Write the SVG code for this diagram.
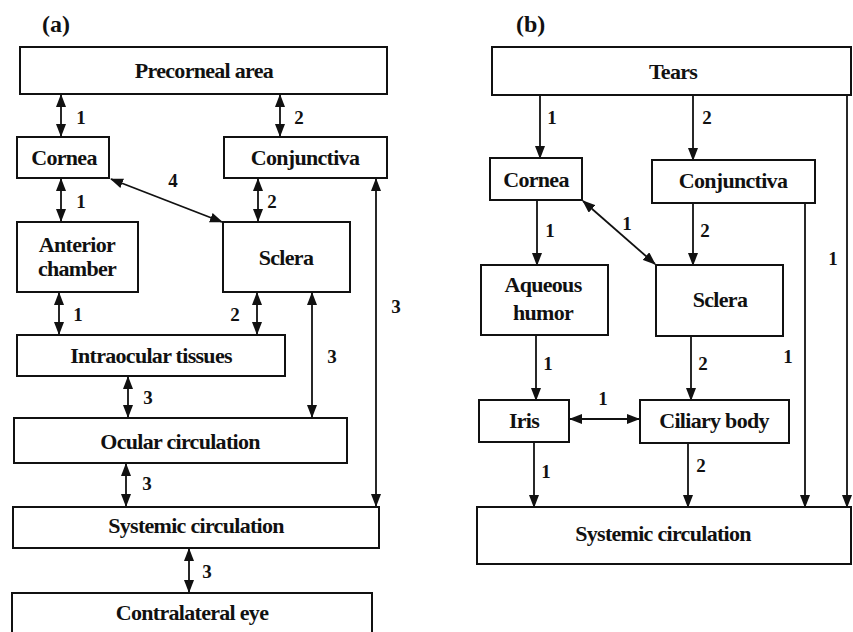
<svg xmlns="http://www.w3.org/2000/svg" width="853" height="632" viewBox="0 0 853 632">
  <style>
    .box { fill: #fff; stroke: #111; stroke-width: 2; }
    .t { font-family: "Liberation Serif", "Times New Roman", serif; font-weight: bold; font-size: 22px; fill: #111; text-anchor: middle; letter-spacing: -0.7px; }
    .n { font-family: "Liberation Serif", "Times New Roman", serif; font-weight: bold; font-size: 19px; fill: #111; text-anchor: middle; }
    .p { font-family: "Liberation Serif", "Times New Roman", serif; font-weight: bold; font-size: 24px; fill: #111; }
    .c { stroke: #111; stroke-width: 1.8; fill: none; }
    .one { marker-end: url(#head); }
    .two { marker-start: url(#head); marker-end: url(#head); }
  </style>
  <defs>
    <marker id="head" markerUnits="userSpaceOnUse" markerWidth="13" markerHeight="10" refX="12" refY="5" orient="auto-start-reverse">
      <path d="M0,0 L13,5 L0,10 z" fill="#111"/>
    </marker>
  </defs>
  <rect width="853" height="632" fill="#fff"/>

  <!-- panel letters -->
  <text class="p" x="42" y="32">(a)</text>
  <text class="p" x="516" y="32">(b)</text>

  <!-- connectors, panel (a) -->
  <g id="connectors-a">
    <line class="c two" x1="61" y1="95" x2="61" y2="136"/>
    <line class="c two" x1="280" y1="95" x2="280" y2="136"/>
    <line class="c two" x1="111" y1="179" x2="222" y2="222"/>
    <line class="c two" x1="61" y1="179" x2="61" y2="221"/>
    <line class="c two" x1="258" y1="179" x2="258" y2="221"/>
    <line class="c two" x1="376" y1="179" x2="376" y2="506"/>
    <line class="c two" x1="59" y1="293" x2="59" y2="334"/>
    <line class="c two" x1="257" y1="293" x2="257" y2="334"/>
    <line class="c two" x1="312" y1="293" x2="312" y2="417"/>
    <line class="c two" x1="128" y1="377" x2="128" y2="417"/>
    <line class="c two" x1="126" y1="464" x2="126" y2="506"/>
    <line class="c two" x1="189" y1="549" x2="189" y2="592"/>
    <text class="n" x="81" y="124">1</text>
    <text class="n" x="299" y="124">2</text>
    <text class="n" x="173" y="187">4</text>
    <text class="n" x="81" y="208">1</text>
    <text class="n" x="272" y="208">2</text>
    <text class="n" x="396" y="313">3</text>
    <text class="n" x="78" y="321">1</text>
    <text class="n" x="235" y="321">2</text>
    <text class="n" x="332" y="363">3</text>
    <text class="n" x="148" y="404">3</text>
    <text class="n" x="147" y="490">3</text>
    <text class="n" x="207" y="578">3</text>
  </g>

  <!-- nodes, panel (a) -->
  <g id="a-precorneal"><rect class="box" x="20" y="47" width="367" height="47"/><text class="t" x="204" y="78">Precorneal area</text></g>
  <g id="a-cornea"><rect class="box" x="17" y="137" width="92" height="41"/><text class="t" x="64" y="165">Cornea</text></g>
  <g id="a-conjunctiva"><rect class="box" x="224" y="137" width="163" height="41"/><text class="t" x="305" y="165">Conjunctiva</text></g>
  <g id="a-anterior"><rect class="box" x="17" y="222" width="121" height="70"/><text class="t" x="77" y="252">Anterior</text><text class="t" x="77" y="276">chamber</text></g>
  <g id="a-sclera"><rect class="box" x="223" y="222" width="127" height="70"/><text class="t" x="286" y="265">Sclera</text></g>
  <g id="a-intraocular"><rect class="box" x="17" y="335" width="268" height="41"/><text class="t" x="151" y="363">Intraocular tissues</text></g>
  <g id="a-ocular"><rect class="box" x="14" y="418" width="333" height="45"/><text class="t" x="180" y="449">Ocular circulation</text></g>
  <g id="a-systemic"><rect class="box" x="13" y="507" width="366" height="41"/><text class="t" x="196" y="533">Systemic circulation</text></g>
  <g id="a-contralateral"><rect class="box" x="12" y="593" width="360" height="60"/><text class="t" x="192" y="620">Contralateral eye</text></g>

  <!-- connectors, panel (b) -->
  <g id="connectors-b">
    <line class="c one" x1="540" y1="95" x2="540" y2="158"/>
    <line class="c one" x1="693" y1="95" x2="693" y2="160"/>
    <line class="c one" x1="847" y1="95" x2="847" y2="507"/>
    <line class="c one" x1="537" y1="200" x2="537" y2="265"/>
    <line class="c two" x1="583" y1="201" x2="655" y2="264"/>
    <line class="c one" x1="693" y1="203" x2="693" y2="265"/>
    <line class="c one" x1="805" y1="203" x2="805" y2="507"/>
    <line class="c one" x1="536" y1="335" x2="536" y2="400"/>
    <line class="c one" x1="691" y1="336" x2="691" y2="400"/>
    <line class="c two" x1="570" y1="419" x2="639" y2="419"/>
    <line class="c one" x1="534" y1="442" x2="534" y2="507"/>
    <line class="c one" x1="688" y1="443" x2="688" y2="507"/>
    <text class="n" x="552" y="124">1</text>
    <text class="n" x="707" y="124">2</text>
    <text class="n" x="550" y="237">1</text>
    <text class="n" x="627" y="230">1</text>
    <text class="n" x="705" y="237">2</text>
    <text class="n" x="833" y="265">1</text>
    <text class="n" x="788" y="363">1</text>
    <text class="n" x="548" y="370">1</text>
    <text class="n" x="703" y="370">2</text>
    <text class="n" x="603" y="405">1</text>
    <text class="n" x="546" y="478">1</text>
    <text class="n" x="701" y="472">2</text>
  </g>

  <!-- nodes, panel (b) -->
  <g id="b-tears"><rect class="box" x="492" y="47" width="359" height="48"/><text class="t" x="673" y="79">Tears</text></g>
  <g id="b-cornea"><rect class="box" x="490" y="158" width="92" height="42"/><text class="t" x="536" y="187">Cornea</text></g>
  <g id="b-conjunctiva"><rect class="box" x="652" y="160" width="163" height="43"/><text class="t" x="733" y="188">Conjunctiva</text></g>
  <g id="b-aqueous"><rect class="box" x="481" y="265" width="127" height="70"/><text class="t" x="543" y="292">Aqueous</text><text class="t" x="543" y="320">humor</text></g>
  <g id="b-sclera"><rect class="box" x="656" y="265" width="127" height="71"/><text class="t" x="720" y="307">Sclera</text></g>
  <g id="b-iris"><rect class="box" x="479" y="400" width="90" height="42"/><text class="t" x="524" y="428">Iris</text></g>
  <g id="b-ciliary"><rect class="box" x="640" y="400" width="149" height="43"/><text class="t" x="714" y="428">Ciliary body</text></g>
  <g id="b-systemic"><rect class="box" x="477" y="507" width="374" height="57"/><text class="t" x="663" y="541">Systemic circulation</text></g>
</svg>
